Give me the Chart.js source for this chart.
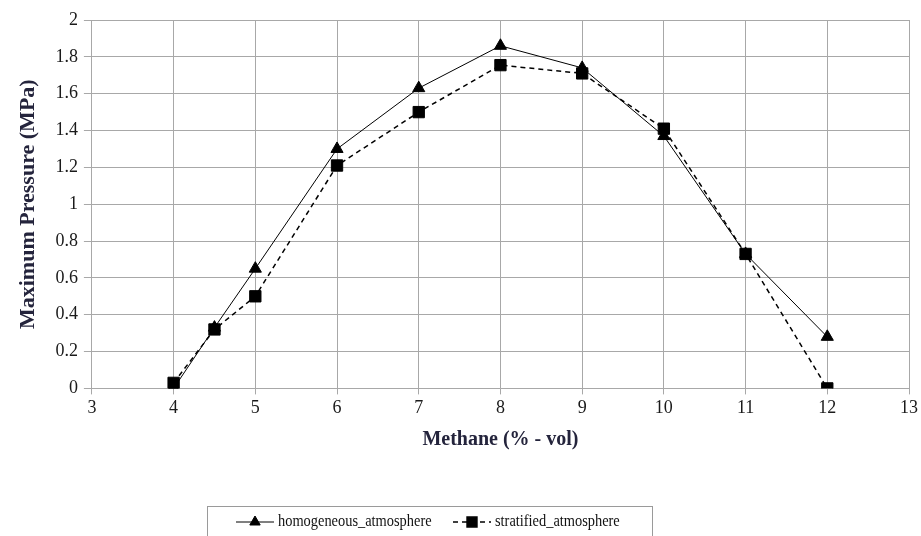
<!DOCTYPE html>
<html>
<head>
<meta charset="utf-8">
<script src="https://cdn.jsdelivr.net/npm/chart.js@4.4.1/dist/chart.umd.min.js"></script>
<style>
  html, body { margin: 0; padding: 0; background: #fff; }
  #wrap { width: 921px; height: 536px; }
</style>
</head>
<body>
<div id="wrap"><canvas id="chart" width="921" height="536"></canvas></div>
<script>
// Methane concentration (% vol) on the x axis
const methane = [4, 4.5, 5, 6, 7, 8, 9, 10, 11, 12];
// Maximum pressure (MPa) per series
const homogeneous = [0.0, 0.33, 0.65, 1.30, 1.63, 1.86, 1.74, 1.37, 0.73, 0.28];
const stratified = [0.03, 0.32, 0.50, 1.21, 1.50, 1.755, 1.71, 1.41, 0.73, 0.0];
const seriesNames = ['homogeneous_atmosphere', 'stratified_atmosphere'];

const serif = '"Liberation Serif", "Times New Roman", serif';
const gridColor = '#a8a8a8';
const titleColor = '#24243c';

const toPoints = (ys) => methane.map((x, i) => ({ x: x, y: ys[i] }));

// Boxed legend under the axis title: line sample + marker, then the label
const boxedLegend = {
    id: 'boxedLegend',
    afterDraw(chart) {
        const ctx = chart.ctx;
        const boxLeft = 207, boxRight = 652, boxTop = 506;
        const midY = 522;
        ctx.save();
        ctx.strokeStyle = '#9a9a9a';
        ctx.lineWidth = 1;
        ctx.strokeRect(boxLeft + 0.5, boxTop + 0.5, boxRight - boxLeft, 60);

        const starts = [236, 453];
        chart.data.datasets.forEach((ds, i) => {
            const x0 = starts[i];
            const symW = 38;
            ctx.strokeStyle = '#000';
            ctx.lineWidth = ds.borderWidth;
            ctx.setLineDash(ds.borderDash || []);
            ctx.beginPath();
            ctx.moveTo(x0, midY);
            ctx.lineTo(x0 + symW, midY);
            ctx.stroke();
            ctx.setLineDash([]);
            Chart.helpers.drawPoint(ctx, {
                pointStyle: ds.pointStyle,
                radius: ds.pointRadius - 1,
                borderWidth: 1
            }, x0 + symW / 2, midY);

            // label text is a bit condensed in the original
            ctx.save();
            ctx.translate(x0 + symW + 4, midY);
            ctx.scale(0.9, 1);
            ctx.font = '16px ' + serif;
            ctx.textBaseline = 'middle';
            ctx.fillStyle = '#111';
            ctx.fillText(ds.label, 0, 0);
            ctx.restore();
        });
        ctx.restore();
    }
};

new Chart(document.getElementById('chart').getContext('2d'), {
    type: 'line',
    data: {
        datasets: [
            {
                label: seriesNames[0],
                data: toPoints(homogeneous),
                borderColor: '#000',
                backgroundColor: '#000',
                borderWidth: 1,
                pointStyle: 'triangle',
                pointRadius: 7,
                pointBorderWidth: 1,
                order: 1
            },
            {
                label: seriesNames[1],
                data: toPoints(stratified),
                borderColor: '#000',
                backgroundColor: '#000',
                borderWidth: 1.5,
                borderDash: [5, 4],
                pointStyle: 'rect',
                pointRadius: 8,
                pointBorderWidth: 1,
                order: 0
            }
        ]
    },
    options: {
        responsive: false,
        animation: false,
        devicePixelRatio: 1,
        layout: {
            padding: { top: 20, right: 0, bottom: 80, left: 15 }
        },
        plugins: {
            legend: { display: false },
            tooltip: { enabled: false }
        },
        scales: {
            x: {
                type: 'linear',
                min: 3,
                max: 13,
                ticks: {
                    stepSize: 1,
                    padding: 3,
                    color: '#1a1a1a',
                    font: { family: serif, size: 18 }
                },
                grid: { color: gridColor, tickLength: 6 },
                border: { color: gridColor },
                title: {
                    display: true,
                    text: 'Methane (% - vol)',
                    color: titleColor,
                    font: { family: serif, size: 20, weight: 'bold' },
                    padding: { top: 6, bottom: 4 }
                }
            },
            y: {
                min: 0,
                max: 2,
                ticks: {
                    stepSize: 0.2,
                    padding: 6,
                    color: '#1a1a1a',
                    font: { family: serif, size: 18 },
                    callback: (v) => String(+v.toFixed(1))
                },
                grid: { color: gridColor, tickLength: 8 },
                border: { color: gridColor },
                title: {
                    display: true,
                    text: 'Maximum Pressure (MPa)',
                    color: titleColor,
                    font: { family: serif, size: 22, weight: 'bold' },
                    padding: { top: 0, bottom: 8 }
                }
            }
        }
    },
    plugins: [boxedLegend]
});
</script>
</body>
</html>
